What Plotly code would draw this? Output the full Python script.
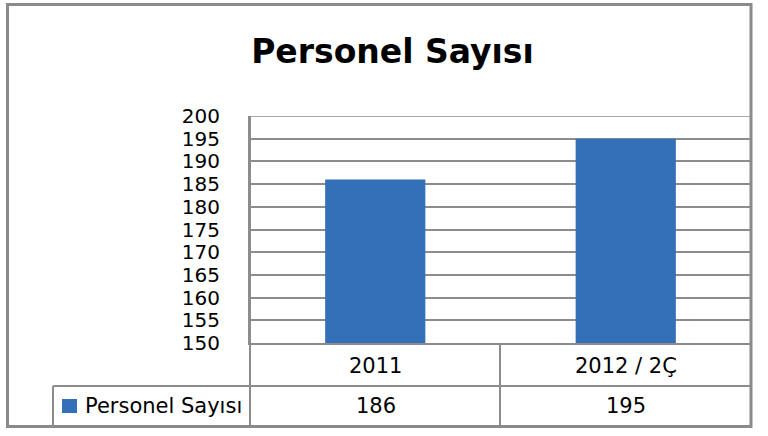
import plotly.graph_objects as go

title_text = "Personel Sayısı"
series_name = "Personel Sayısı"
categories = ["2011", "2012 / 2Ç"]
values = [186, 195]
y_ticks = [150, 155, 160, 165, 170, 175, 180, 185, 190, 195, 200]

W, H = 768, 436
PL, PR, PT, PB = 250, 751, 116, 343  # plot area pixels

def px(x):
    return (x - PL) / (PR - PL)

def py(y):
    return (PB - y) / (PB - PT)

FONT = "DejaVu Sans"
GRID = "#8c8c8c"
BAR = "#3470b8"

fig = go.Figure()
fig.add_trace(go.Bar(
    x=categories, y=values, name=series_name,
    marker=dict(color=BAR, line=dict(width=0)),
    width=0.4, showlegend=False, hoverinfo="x+y",
))

fig.update_layout(
    width=W, height=H,
    margin=dict(l=PL, r=W - PR, t=PT, b=H - PB),
    paper_bgcolor="white", plot_bgcolor="white",
    font=dict(family=FONT, color="black"),
    title=dict(text="<b>" + title_text + "</b>", x=392.5 / W, xanchor="center",
               y=1 - 51 / H, yanchor="middle",
               font=dict(family=FONT, size=33, color="black")),
)
fig.update_yaxes(range=[150, 200], tickvals=y_ticks, ticktext=[str(v) for v in y_ticks],
                 showgrid=True, gridcolor=GRID, gridwidth=1.5,
                 showline=True, linecolor=GRID, linewidth=2,
                 ticks="", ticklabelstandoff=24,
                 tickfont=dict(family=FONT, size=20, color="black"), zeroline=False)
fig.update_xaxes(showticklabels=False, showline=True, linecolor=GRID, linewidth=2,
                 showgrid=False, ticks="")

shapes = []
line = dict(color=GRID, width=2)
# top gridline (at max of axis range)
shapes.append(dict(type="line", xref="paper", yref="y", x0=0, x1=1, y0=y_ticks[-1], y1=y_ticks[-1],
                   line=dict(color=GRID, width=1.5), layer="below"))
# data table lines
shapes.append(dict(type="line", xref="paper", yref="paper", x0=px(PL), x1=px(PL), y0=py(PT), y1=py(426), line=line))
shapes.append(dict(type="line", xref="paper", yref="paper", x0=px(500), x1=px(500), y0=py(PB), y1=py(426), line=line))
shapes.append(dict(type="line", xref="paper", yref="paper", x0=px(53), x1=px(PR), y0=py(386), y1=py(386), line=line))
shapes.append(dict(type="line", xref="paper", yref="paper", x0=px(53), x1=px(53), y0=py(386), y1=py(426), line=line))
shapes.append(dict(type="line", xref="paper", yref="paper", x0=px(PR), x1=px(PR), y0=py(PT), y1=py(386), line=line))
# outer border
shapes.append(dict(type="rect", xref="paper", yref="paper", x0=px(7.5), x1=px(751), y0=py(4.5), y1=py(426.5),
                   line=dict(color="#8a8a8a", width=3), fillcolor="rgba(0,0,0,0)", layer="above"))
# legend key
shapes.append(dict(type="rect", xref="paper", yref="paper", x0=px(62), x1=px(77), y0=py(399), y1=py(413),
                   line=dict(width=0), fillcolor=BAR))
fig.update_layout(shapes=shapes)

ann = []
col_centers = [375.5, 625.5]
for i, c in enumerate(categories):
    ann.append(dict(xref="paper", yref="paper", x=px(col_centers[i]), y=py(366), text=c, showarrow=False,
                    xanchor="center", yanchor="middle", font=dict(family=FONT, size=21, color="black")))
    ann.append(dict(xref="paper", yref="paper", x=px(col_centers[i]), y=py(406), text=str(values[i]), showarrow=False,
                    xanchor="center", yanchor="middle", font=dict(family=FONT, size=21, color="black")))
ann.append(dict(xref="paper", yref="paper", x=px(83), y=py(406), text=series_name, showarrow=False,
                xanchor="left", yanchor="middle", font=dict(family=FONT, size=21, color="black")))
fig.update_layout(annotations=ann)

fig.write_html("out.html", config={"displayModeBar": False},
               post_script="document.body.style.margin='0';document.body.style.overflow='hidden';")
